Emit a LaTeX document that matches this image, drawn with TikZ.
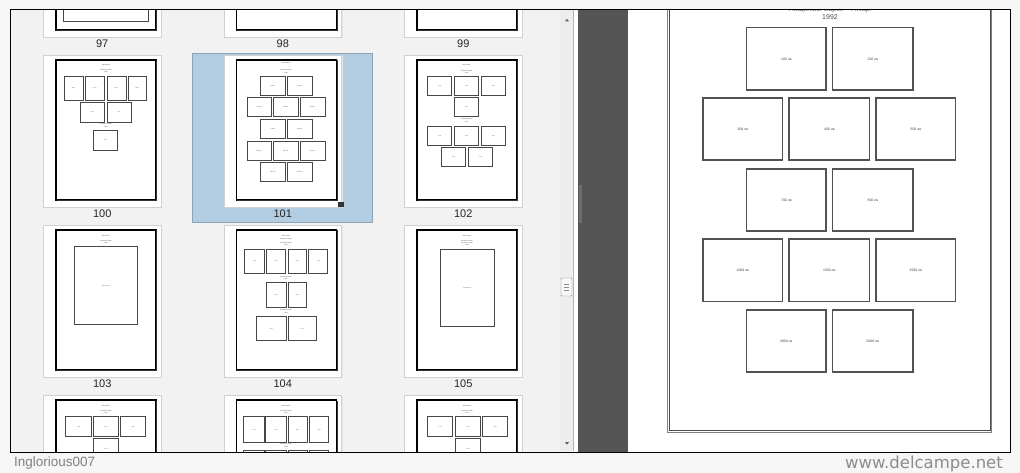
\documentclass[tikz,border=0pt]{standalone}
\usepackage{fontspec}
\setmainfont{Liberation Sans}
\newfontfamily\wmfont{DejaVu Sans}
\usetikzlibrary{calc}
\definecolor{outer}{HTML}{F6F6F6}
\definecolor{panebg}{HTML}{F2F2F2}
\definecolor{divider}{HTML}{555555}
\definecolor{selblue}{HTML}{B2CDE2}
\definecolor{mark}{HTML}{8C8C8C}
\tikzset{
  frame/.style={draw=black, line width=1pt},
  paper/.style={fill=white, draw=black!18, line width=0.6pt},
  shade/.style={fill=black!10},
  pageline/.style={draw=black, line width=1.2pt},
  pageshade/.style={draw=black!80, line width=0.9pt},
  tbox/.style={draw=black!72, line width=0.85pt},
  bbox/.style={draw=black!68, line width=1.1pt},
  ttxt/.style={font=\fontsize{1.5}{1.8}\selectfont, text=black!75, inner sep=0pt},
  btxt/.style={font=\fontsize{3.4}{4}\selectfont, text=black!75, inner sep=0pt},
  pagenum/.style={font=\fontsize{11}{12}\selectfont, text=black!85},
}
\newcommand{\tstamp}[5]{\draw[tbox] (#1,#2) rectangle (#3,#4);
  \node[ttxt] at ({(#1+#3)/2},{(#2+#4)/2}) {#5};}
\newcommand{\bstamp}[5]{\draw[bbox] (#1,#2) rectangle (#3,#4);
  \node[btxt] at ({(#1+#3)/2},{(#2+#4)/2}) {#5};}
\newcommand{\ttitle}[2]{\node[ttxt] at (50,#1) {#2};}
\begin{document}
\begin{tikzpicture}[x=1pt,y=-1pt]
  \useasboundingbox (0,0) rectangle (1020,473);
  \fill[outer] (0,0) rectangle (1020,473);
  \fill[panebg] (10,9) rectangle (573,452);
  \fill[white] (573,9) rectangle (578,452);
  \fill[divider] (578,9) rectangle (628,452);
  \fill[divider!85!white] (578.5,185) rectangle (582,223);
  \fill[white] (628,9) rectangle (1010,452);

  \fill[black!7] (560,10) rectangle (573,451);
  \draw[black!30, line width=0.5pt] (573.5,10) -- (573.5,451);
  \draw[black!45, fill=black!3, rounded corners=1pt] (561,278) rectangle (572,296);
  \foreach \gy in {284,287,290}
    \draw[black!45, line width=0.4pt] (564,\gy) -- (569,\gy);
  \fill[black!60] (564.8,21.5) -- (567,18.8) -- (569.2,21.5) -- cycle;
  \fill[black!60] (564.8,442) -- (567,444.7) -- (569.2,442) -- cycle;

  \fill[selblue] (192,53) rectangle (372,222);
  \draw[selblue!80!black, line width=0.4pt] (192,53) rectangle (372,222);

  \begin{scope}
    \clip (11,10) rectangle (559,451);
    \foreach \row/\py in {0/-115,1/55,2/225,3/395}{
      \foreach \col/\px in {0/43.5,1/224,2/404.5}{
        \pgfmathtruncatemacro{\pg}{97+3*\row+\col}
        \fill[shade] (\px+1.2,\py+1.2) rectangle (\px+118.7,\py+153.2);
        \draw[paper] (\px,\py) rectangle (\px+117.5,\py+152);
        \draw[pageline] (\px+12.5,\py+5) rectangle (\px+112.5,\py+145);
        \draw[pageshade] (\px+113.4,\py+5.5) -- (\px+113.4,\py+145.9) -- (\px+13,\py+145.9);
        \ifnum\row<3
          \node[pagenum] (num\pg) at (\px+58.75,\py+159) {\pg};
        \fi
      }
    }
    \fill[black!80] (338,202) rectangle (343.5,207.5);

    \begin{scope}[shift={(56,-110)}]
      \tstamp{7}{40}{92}{131}{}
    \end{scope}

    \begin{scope}[shift={(56,60)}]
      \ttitle{5}{BULGARIA}
      \ttitle{10}{Пощенски марки}
      \ttitle{12.2}{1992}
      \tstamp{8}{16}{27.3}{40}{10 ст}
      \tstamp{29.3}{16}{48.3}{40}{20 ст}
      \tstamp{51}{16}{70}{40}{30 ст}
      \tstamp{72}{16}{90.7}{40}{50 ст}
      \tstamp{24.3}{42.3}{48.3}{62}{1 лв}
      \tstamp{51}{42.3}{75}{62}{2 лв}
      \ttitle{64.3}{Пощенски марки}
      \ttitle{66.6}{1992}
      \tstamp{37.3}{70.3}{61.3}{90.3}{3 лв}
    \end{scope}

    \begin{scope}[shift={(236,60)}]
      \ttitle{3.3}{BULGARIA}
      \ttitle{10}{Пощенски марки}
      \ttitle{12.5}{1992}
      \tstamp{24.7}{16}{49.3}{35}{100 лв}
      \tstamp{51.3}{16}{76}{35}{200 лв}
      \tstamp{11}{37.7}{35.7}{56.7}{300 лв}
      \tstamp{37.3}{37.7}{62.3}{56.7}{400 лв}
      \tstamp{64.3}{37.7}{89}{56.7}{500 лв}
      \tstamp{24.7}{59.3}{49.3}{78.3}{700 лв}
      \tstamp{51.3}{59.3}{76}{78.3}{800 лв}
      \tstamp{11}{81}{35.7}{100}{1000 лв}
      \tstamp{37.3}{81}{62.3}{100}{1500 лв}
      \tstamp{64.3}{81}{89}{100}{2500 лв}
      \tstamp{24.7}{102.3}{49.3}{121.7}{3000 лв}
      \tstamp{51.3}{102.3}{76}{121.7}{5000 лв}
    \end{scope}

    \begin{scope}[shift={(416.7,60)}]
      \ttitle{5}{BULGARIA}
      \ttitle{10.7}{Пощенски марки}
      \ttitle{12.7}{1992}
      \tstamp{10.6}{16}{35}{35}{1 лв}
      \tstamp{37.3}{16}{62}{35}{2 лв}
      \tstamp{64.3}{16}{88.6}{35}{3 лв}
      \tstamp{37.3}{37.7}{62}{56.7}{5 лв}
      \ttitle{59.3}{Пощенски марки}
      \ttitle{61.6}{1992}
      \tstamp{10.6}{66}{35}{85}{1 лв}
      \tstamp{37.3}{66}{62}{85}{2 лв}
      \tstamp{64.3}{66}{88.6}{85}{3 лв}
      \tstamp{25}{87.3}{49}{106.7}{5 лв}
      \tstamp{51.3}{87.3}{75.6}{106.7}{7 лв}
    \end{scope}

    \begin{scope}[shift={(56,230)}]
      \ttitle{5.7}{BULGARIA}
      \ttitle{10.7}{Пощенски марки}
      \ttitle{12.9}{1992}
      \tstamp{18}{16.7}{81.8}{94.3}{Блок 10 лв}
    \end{scope}

    \begin{scope}[shift={(236,230)}]
      \ttitle{5.7}{BULGARIA}
      \ttitle{9}{Пощенски марки}
      \ttitle{12.7}{Пощенски марки}
      \ttitle{15}{1992}
      \tstamp{8.4}{19}{28.4}{43.3}{1 лв}
      \tstamp{30.7}{19}{49.2}{43.3}{2 лв}
      \tstamp{52}{19}{70.7}{43.3}{3 лв}
      \tstamp{72.9}{19}{91.8}{43.3}{5 лв}
      \ttitle{46.7}{Пощенски марки}
      \ttitle{49}{1992}
      \tstamp{30}{52.3}{50}{77.3}{1 лв}
      \tstamp{52}{52.3}{70.7}{77.3}{2 лв}
      \ttitle{80}{Пощенски марки}
      \ttitle{82.7}{1992}
      \tstamp{20.3}{86.3}{50}{110.7}{3 лв}
      \tstamp{52}{86.3}{80.3}{110.7}{5 лв}
    \end{scope}

    \begin{scope}[shift={(417,230)}]
      \ttitle{5.7}{BULGARIA}
      \ttitle{10.7}{Пощенски марки}
      \ttitle{13}{Пощенски марки}
      \ttitle{15.2}{1992}
      \tstamp{23.3}{19}{77.7}{96.7}{Блок 15 лв}
    \end{scope}

    \begin{scope}[shift={(56,400)}]
      \ttitle{5.7}{BULGARIA}
      \ttitle{10.7}{Пощенски марки}
      \ttitle{13.3}{1992}
      \tstamp{9.9}{16.7}{35.1}{36.7}{1 лв}
      \tstamp{37.3}{16.7}{62.5}{36.7}{2 лв}
      \tstamp{64.4}{16.7}{89.6}{36.7}{3 лв}
      \tstamp{37.3}{38.7}{62.5}{58.7}{5 лв}
    \end{scope}

    \begin{scope}[shift={(236,400)}]
      \ttitle{5.7}{BULGARIA}
      \ttitle{10.7}{Пощенски марки}
      \ttitle{13.3}{1992}
      \tstamp{7.7}{16.7}{28.4}{42.3}{1 лв}
      \tstamp{29.6}{16.7}{50}{42.3}{2 лв}
      \tstamp{52}{16.7}{71.4}{42.3}{3 лв}
      \tstamp{73.6}{16.7}{92.9}{42.3}{5 лв}
      \ttitle{44.3}{Пощенски марки}
      \ttitle{46.7}{1992}
      \tstamp{7.7}{50}{28.4}{75}{}
      \tstamp{29.6}{50}{50}{75}{}
      \tstamp{52}{50}{71.4}{75}{}
      \tstamp{73.6}{50}{92.9}{75}{}
    \end{scope}

    \begin{scope}[shift={(417,400)}]
      \ttitle{5.7}{BULGARIA}
      \ttitle{10.7}{Пощенски марки}
      \ttitle{13.3}{1992}
      \tstamp{10.3}{16.7}{35.9}{36.7}{1 лв}
      \tstamp{38.1}{16.7}{63.7}{36.7}{2 лв}
      \tstamp{65.5}{16.7}{90.7}{36.7}{3 лв}
      \tstamp{38.1}{38.7}{63.7}{58.7}{5 лв}
    \end{scope}
  \end{scope}

  \begin{scope}
    \clip (629,10) rectangle (1009,451);
    \draw[black!50, line width=0.8pt] (667.7,-5) rectangle (991.7,432.3);
    \draw[black!70, line width=0.6pt] (669.3,-5) rectangle (990,430.7);
    \node[font=\fontsize{7}{8}\selectfont, text=black!60] (head) at (830,10.2) {Пощенски марки -- Птици};
    \node[font=\fontsize{7}{8}\selectfont, text=black!70] (year) at (830,17.5) {1992};
    \bstamp{746.7}{27.7}{826}{90}{100 лв}
    \bstamp{832.7}{27.7}{913}{90}{200 лв}
    \bstamp{703}{98}{782.7}{160}{300 лв}
    \bstamp{789}{98}{869.7}{160}{400 лв}
    \bstamp{876}{98}{955.7}{160}{500 лв}
    \bstamp{746.7}{169}{826}{231}{700 лв}
    \bstamp{832.7}{169}{913}{231}{800 лв}
    \bstamp{703}{239}{782.7}{301.7}{1000 лв}
    \bstamp{789}{239}{869.7}{301.7}{1500 лв}
    \bstamp{876}{239}{955.7}{301.7}{2500 лв}
    \bstamp{746.7}{310}{826}{372}{3000 лв}
    \bstamp{832.7}{310}{913}{372}{5000 лв}
  \end{scope}

  \draw[frame] (10,9.3) rectangle (1010,452);

  \node[font=\fontsize{13.5}{15}\selectfont, text=black!50, anchor=west, inner sep=0pt] (user) at (14,463) {Inglorious007};
  \node[font=\wmfont\fontsize{16.5}{18}\selectfont, text=mark, anchor=east, inner sep=0pt] (site) at (1003,463.5) {www.delcampe.net};
\end{tikzpicture}
\end{document}
